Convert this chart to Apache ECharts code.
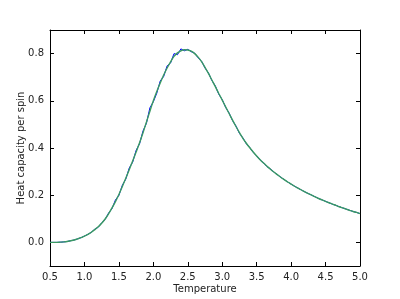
<!DOCTYPE html>
<html>
<head>
<meta charset="utf-8">
<script src="https://cdn.jsdelivr.net/npm/echarts@6/dist/echarts.min.js"></script>
<style>html,body{margin:0;padding:0;background:#fff}#c{width:400px;height:299px}</style>
</head>
<body>
<div id="c"></div>
<script>
const temps = [0.50,0.55,0.60,0.65,0.70,0.75,0.80,0.85,0.90,0.95,1.00,1.05,1.10,1.15,1.20,1.25,1.30,1.35,1.40,1.45,1.50,1.55,1.60,1.65,1.70,1.75,1.80,1.85,1.90,1.95,2.00,2.05,2.10,2.15,2.20,2.25,2.30,2.35,2.40,2.45,2.50,2.55,2.60,2.65,2.70,2.75,2.80,2.85,2.90,2.95,3.00,3.05,3.10,3.15,3.20,3.25,3.30,3.35,3.40,3.45,3.50,3.55,3.60,3.65,3.70,3.75,3.80,3.85,3.90,3.95,4.00,4.05,4.10,4.15,4.20,4.25,4.30,4.35,4.40,4.45,4.50,4.55,4.60,4.65,4.70,4.75,4.80,4.85,4.90,4.95,5.00];
const heatRaw = [0.000,0.000,0.000,0.001,0.002,0.004,0.007,0.010,0.015,0.020,0.027,0.034,0.043,0.056,0.064,0.083,0.097,0.124,0.143,0.180,0.199,0.242,0.268,0.315,0.340,0.390,0.418,0.472,0.505,0.570,0.596,0.632,0.684,0.703,0.748,0.760,0.800,0.795,0.820,0.812,0.818,0.808,0.802,0.782,0.768,0.739,0.718,0.686,0.663,0.628,0.605,0.572,0.548,0.516,0.493,0.462,0.443,0.418,0.402,0.381,0.367,0.349,0.337,0.321,0.311,0.298,0.287,0.276,0.266,0.256,0.247,0.238,0.230,0.222,0.214,0.207,0.200,0.193,0.186,0.180,0.174,0.168,0.162,0.157,0.151,0.146,0.141,0.136,0.131,0.127,0.122];
const heatSmooth = [0.000,0.000,0.000,0.001,0.002,0.004,0.007,0.010,0.015,0.020,0.027,0.034,0.043,0.054,0.066,0.081,0.099,0.121,0.146,0.173,0.203,0.237,0.272,0.308,0.345,0.383,0.422,0.465,0.510,0.556,0.600,0.639,0.675,0.709,0.739,0.765,0.788,0.803,0.812,0.816,0.815,0.810,0.800,0.785,0.766,0.742,0.716,0.688,0.660,0.631,0.603,0.574,0.546,0.518,0.491,0.465,0.441,0.420,0.401,0.383,0.366,0.350,0.336,0.323,0.310,0.298,0.287,0.276,0.266,0.256,0.247,0.238,0.230,0.222,0.214,0.207,0.200,0.193,0.186,0.180,0.174,0.168,0.162,0.157,0.151,0.146,0.141,0.136,0.131,0.127,0.122];
const yTicks = [0.0,0.2,0.4,0.6,0.8];
const xLabel = 'Temperature';
const yLabel = 'Heat capacity per spin';

const font = 'DejaVu Sans';
const chart = echarts.init(document.getElementById('c'), null, {renderer:'canvas'});
const axisLineStyle = {show:true, onZero:false, lineStyle:{color:'#000', width:1}};
const tickStyle = {show:true, inside:true, length:4, lineStyle:{color:'#000'}};
chart.setOption({
  animation:false,
  backgroundColor:'#fff',
  grid:{left:50, right:40, top:30, bottom:31, containLabel:false},
  xAxis:[
    {type:'value', min:0.5, max:5.0, interval:0.5, position:'bottom',
     axisLine:axisLineStyle, splitLine:{show:false}, axisTick:tickStyle,
     axisLabel:{color:'#222', fontFamily:font, fontSize:10, margin:6, formatter:v=>v.toFixed(1)},
     name:xLabel, nameLocation:'middle', nameGap:18, nameMoveOverlap:false,
     nameTextStyle:{color:'#222', fontFamily:font, fontSize:10}},
    {type:'value', min:0.5, max:5.0, interval:0.5, position:'top',
     axisLine:axisLineStyle, splitLine:{show:false}, axisTick:tickStyle,
     axisLabel:{show:false}}
  ],
  yAxis:[
    {type:'value', min:-0.1, max:0.9, position:'left',
     axisLine:axisLineStyle, splitLine:{show:false},
     axisTick:Object.assign({customValues:yTicks}, tickStyle),
     axisLabel:{color:'#222', fontFamily:font, fontSize:10, margin:6, customValues:yTicks, formatter:v=>v.toFixed(1)},
     name:yLabel, nameLocation:'middle', nameGap:24, nameRotate:90, nameMoveOverlap:false,
     nameTextStyle:{color:'#222', fontFamily:font, fontSize:10}},
    {type:'value', min:-0.1, max:0.9, position:'right',
     axisLine:axisLineStyle, splitLine:{show:false},
     axisTick:Object.assign({customValues:yTicks}, tickStyle),
     axisLabel:{show:false}}
  ],
  series:[
    {type:'line', data:temps.map((t,i)=>[t,heatRaw[i]]), xAxisIndex:0, yAxisIndex:0,
     showSymbol:false, lineStyle:{color:'#0000ff', width:1}},
    {type:'line', data:temps.map((t,i)=>[t,heatSmooth[i]]), xAxisIndex:0, yAxisIndex:0,
     showSymbol:false, smooth:0.3, lineStyle:{color:'#3a9a62', width:1.4}}
  ]
});
</script>
</body>
</html>
